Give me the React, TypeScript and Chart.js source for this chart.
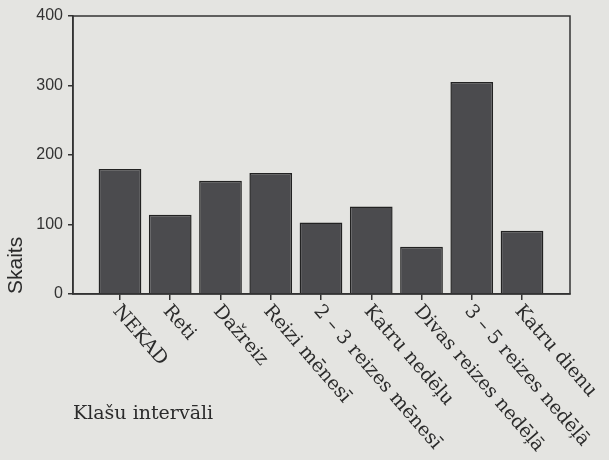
import React, { useEffect, useRef } from "react";
import { Chart, registerables } from "chart.js";

Chart.register(...registerables);

const categories = [
  "NEKAD",
  "Reti",
  "Dažreiz",
  "Reizi mēnesī",
  "2 – 3 reizes mēnesī",
  "Katru nedēļu",
  "Divas reizes nedēļā",
  "3 – 5 reizes nedēļā",
  "Katru dienu",
];
const counts = [180, 114, 163, 174, 103, 126, 68, 305, 91];
const yTicks = [0, 100, 200, 300, 400];
const yTitle = "Skaits";
const xTitle = "Klašu intervāli";

const PAPER = "#e4e4e1";
const INK = "#2b2b2b";

const boxAndLabels = {
  id: "boxAndLabels",
  beforeDraw(chart: any) {
    const { ctx, width, height } = chart;
    ctx.save();
    ctx.fillStyle = PAPER;
    ctx.fillRect(0, 0, width, height);
    ctx.restore();
  },
  afterDraw(chart: any) {
    const { ctx, chartArea } = chart;
    const xs = chart.scales.x;
    ctx.save();
    ctx.strokeStyle = "#333";
    ctx.lineWidth = 1.5;
    ctx.strokeRect(chartArea.left, chartArea.top, chartArea.right - chartArea.left, chartArea.bottom - chartArea.top);
    ctx.fillStyle = INK;
    ctx.font = "19px 'DejaVu Serif'";
    ctx.textAlign = "left";
    ctx.textBaseline = "middle";
    const ang = (49 * Math.PI) / 180;
    categories.forEach((lab, i) => {
      const px = xs.getPixelForValue(i);
      ctx.save();
      ctx.translate(px - 4, chartArea.bottom + 14);
      ctx.rotate(ang);
      ctx.fillText(lab, 0, 0);
      ctx.restore();
    });
    ctx.restore();
  },
};

export default function App() {
  const ref = useRef<HTMLCanvasElement>(null);
  useEffect(() => {
    document.body.style.margin = "0";
    document.body.style.background = PAPER;
    const chart = new Chart(ref.current!, {
      type: "bar",
      data: {
        datasets: [
          {
            data: counts.map((v, i) => ({ x: i, y: v })),
            backgroundColor: "#4b4b4e",
            borderColor: "#222",
            borderWidth: 1.5,
            barPercentage: 0.85,
            categoryPercentage: 1,
          },
        ],
      },
      options: {
        animation: false,
        responsive: false,
        layout: { padding: { top: 16, right: 39, left: 0, bottom: 0 } },
        plugins: { legend: { display: false }, tooltip: { enabled: false } },
        scales: {
          x: {
            type: "linear",
            offset: false,
            min: -0.935,
            max: 8.955,
            afterBuildTicks: (s: any) => {
              s.ticks = categories.map((_, i) => ({ value: i }));
            },
            afterFit: (s: any) => {
              s.height = 166;
            },
            ticks: { display: false },
            grid: { offset: false, drawOnChartArea: false, tickLength: 6, color: "#333", lineWidth: 1.5 },
            border: { color: "#333", width: 1.5 },
            title: {
              display: true,
              text: xTitle,
              align: "start",
              color: INK,
              font: { family: "'DejaVu Serif'", size: 19 },
              padding: { top: 0, bottom: 35 },
            },
          },
          y: {
            min: 0,
            max: 400,
            afterBuildTicks: (s: any) => {
              s.ticks = yTicks.map((v) => ({ value: v }));
            },
            afterFit: (s: any) => {
              s.width = 73;
            },
            ticks: {
              color: "#333",
              padding: 5,
              font: { family: "'Liberation Sans'", size: 16 },
            },
            grid: { drawOnChartArea: false, tickLength: 5, color: "#333", lineWidth: 1.5 },
            border: { color: "#333", width: 1.5 },
            title: {
              display: true,
              text: yTitle,
              align: "start",
              color: INK,
              font: { family: "'Liberation Sans'", size: 21 },
              padding: { top: 4, bottom: 0 },
            },
          },
        },
      },
      plugins: [boxAndLabels],
    });
    return () => chart.destroy();
  }, []);
  return <canvas ref={ref} width={609} height={460} style={{ display: "block" }} />;
}
